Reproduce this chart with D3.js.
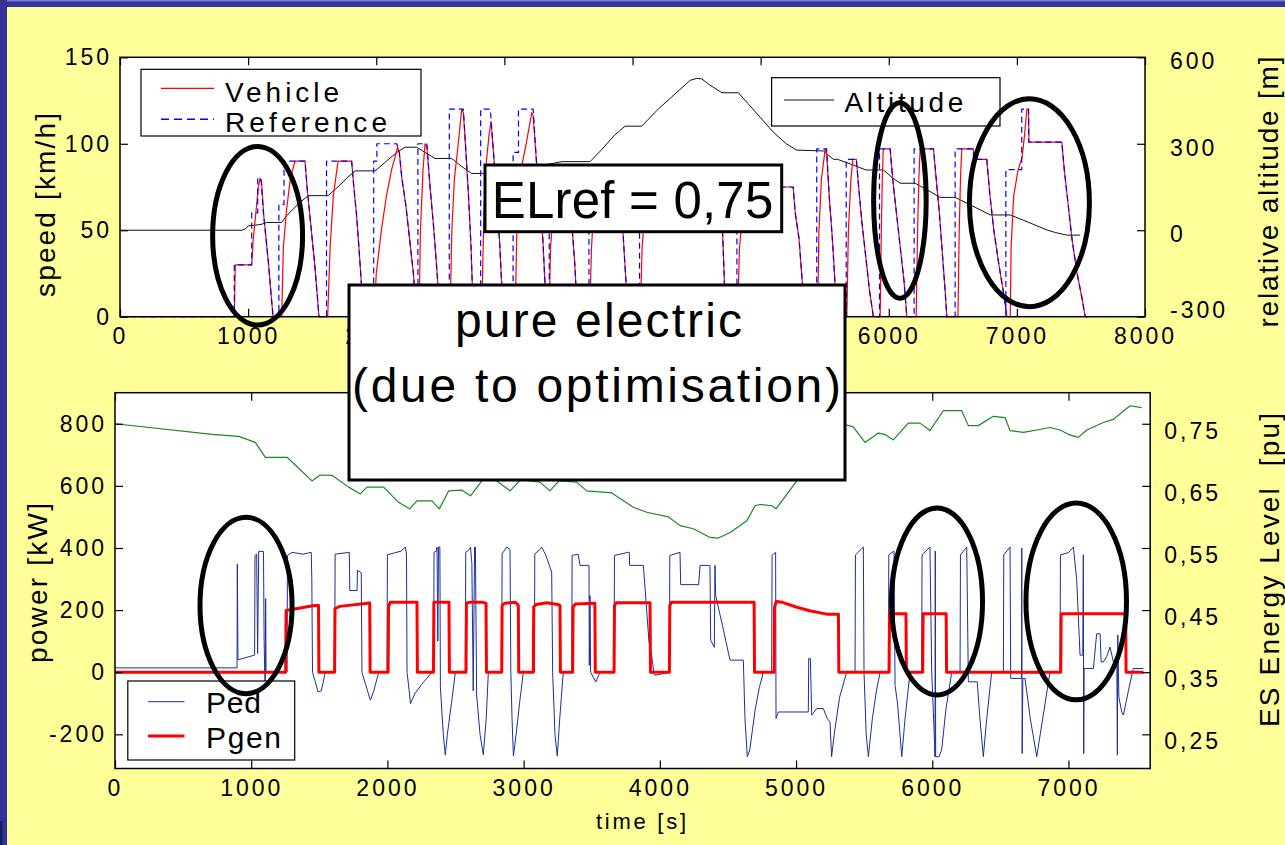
<!DOCTYPE html>
<html>
<head>
<meta charset="utf-8">
<script src="https://cdn.jsdelivr.net/npm/d3@7"></script>
<style>
  html, body { margin: 0; padding: 0; background: #ffff99; }
  svg { display: block; font-family: "Liberation Sans", Arial, sans-serif; }
</style>
</head>
<body>
<svg id="chart" width="1285" height="845"></svg>
<script>
// ---- data: [time s, value] ----
const vehicleSpeed = [
  [0,0],[892,0],[900,30],[1028,30],[1040,45],[1060,60],[1080,75],[1093,80],[1105,78],[1120,60],[1140,45],[1160,30],[1180,12],[1195,0],
  [1262,0],[1275,40],[1300,62],[1330,80],[1366,90],[1444,90],[1460,75],[1480,60],[1500,45],[1520,30],[1540,12],[1553,0],
  [1621,0],[1640,40],[1665,70],[1702,90],[1808,90],[1825,75],[1845,60],[1865,40],[1885,18],[1898,0],
  [1985,0],[2000,25],[2040,50],[2080,70],[2120,85],[2167,98],[2180,95],[2200,80],[2230,65],[2260,45],[2290,25],[2316,0],
  [2334,0],[2345,50],[2365,85],[2381,100],[2395,98],[2420,75],[2450,50],[2475,25],[2498,0],
  [2576,0],[2590,50],[2610,80],[2640,100],[2667,120],[2680,118],[2700,95],[2720,70],[2740,40],[2758,0],
  [2823,0],[2840,60],[2860,90],[2880,105],[2896,113],[2910,100],[2940,70],[2965,40],[2991,0],
  [3084,0],[3100,60],[3130,85],[3170,100],[3214,118],[3225,116],[3250,90],[3275,70],[3300,45],[3330,0],
  [3350,0],[3360,40],[3380,60],[3410,80],[3480,82],[3500,70],[3530,50],[3550,30],[3570,0],
  [3665,0],[3680,40],[3700,65],[3740,85],[3880,85],[3900,70],[3925,50],[3945,25],[3966,0],
  [4060,0],[4075,40],[4100,65],[4140,85],[4680,85],[4690,70],[4705,45],[4715,25],[4725,0],
  [4820,0],[4835,40],[4860,60],[4900,75],[5254,75],[5270,60],[5300,45],[5320,25],[5347,0],
  [5445,0],[5455,50],[5475,80],[5504,97],[5515,95],[5535,70],[5560,45],[5580,20],[5595,0],
  [5673,0],[5685,50],[5705,80],[5720,91],[5747,91],[5765,75],[5790,55],[5820,35],[5850,15],[5880,0],
  [5933,0],[5942,50],[5950,80],[5957,97],[6011,97],[6030,80],[6060,60],[6090,40],[6120,20],[6141,0],
  [6214,0],[6225,50],[6235,80],[6245,97],[6349,97],[6370,80],[6395,60],[6420,35],[6440,15],[6453,0],
  [6540,0],[6550,50],[6560,80],[6570,97],[6661,97],[6665,91],[6765,91],[6790,70],[6820,50],[6860,30],[6900,12],[6922,0],
  [6948,0],[6955,40],[6975,70],[7010,85],[7040,92],[7060,105],[7078,120],[7090,120],[7095,101],[7351,101],[7370,85],[7400,65],[7430,45],[7470,25],[7510,10],[7533,0],[7560,0]
];
const referenceSpeed = [
  [0,0],[892,0],[892,30],[1028,30],[1028,60],[1075,60],[1075,80],[1100,80],[1120,60],[1140,45],[1160,30],[1180,12],[1195,0],
  [1240,0],[1240,65],[1280,65],[1280,90],[1444,90],[1460,75],[1480,60],[1500,45],[1520,30],[1540,12],[1553,0],
  [1612,0],[1612,90],[1808,90],[1825,75],[1845,60],[1865,40],[1885,18],[1898,0],
  [1980,0],[1980,90],[2005,90],[2005,100],[2160,100],[2180,95],[2200,80],[2230,65],[2260,45],[2290,25],[2316,0],
  [2325,0],[2325,100],[2395,100],[2420,75],[2450,50],[2475,25],[2498,0],
  [2570,0],[2570,120],[2680,120],[2700,95],[2720,70],[2740,40],[2758,0],
  [2815,0],[2815,120],[2890,120],[2910,100],[2940,70],[2965,40],[2991,0],
  [3068,0],[3068,95],[3110,95],[3110,120],[3225,120],[3250,90],[3275,70],[3300,45],[3330,0],
  [3350,0],[3350,80],[3480,80],[3500,70],[3530,50],[3550,30],[3570,0],
  [3660,0],[3660,85],[3880,85],[3900,70],[3925,50],[3945,25],[3966,0],
  [4055,0],[4055,85],[4680,85],[4690,70],[4705,45],[4715,25],[4725,0],
  [4815,0],[4815,75],[5254,75],[5270,60],[5300,45],[5320,25],[5347,0],
  [5438,0],[5438,97],[5515,97],[5535,70],[5560,45],[5580,20],[5595,0],
  [5668,0],[5668,91],[5747,91],[5765,75],[5790,55],[5820,35],[5850,15],[5880,0],
  [5928,0],[5928,97],[6011,97],[6030,80],[6060,60],[6090,40],[6120,20],[6141,0],
  [6198,0],[6198,97],[6349,97],[6370,80],[6395,60],[6420,35],[6440,15],[6453,0],
  [6518,0],[6518,97],[6661,97],[6661,91],[6765,91],[6790,70],[6820,50],[6860,30],[6900,12],[6922,0],
  [6914,0],[6914,85],[7038,85],[7038,120],[7092,120],[7092,101],[7351,101],[7370,85],[7400,65],[7430,45],[7470,25],[7510,10],[7533,0],[7560,0]
];
const altitude = [
  [0,0],[950,0],[980,5],[1000,15],[1100,20],[1145,27],[1262,27],[1300,50],[1400,95],[1470,120],[1624,120],[1700,150],[1780,185],[1835,206],
  [1991,206],[2080,240],[2160,270],[2225,288],[2316,288],[2380,270],[2459,249],[2589,249],[2670,220],[2745,197],[2830,197],[3000,210],
  [3100,205],[3300,225],[3450,238],[3669,238],[3760,280],[3860,330],[3942,361],[4072,361],[4200,420],[4350,480],[4450,520],[4502,527],
  [4540,525],[4600,505],[4698,477],[4826,477],[4900,440],[5000,390],[5100,340],[5200,300],[5282,278],[5490,275],[5568,246],[5600,246],
  [5700,230],[5823,209],[5959,209],[6020,185],[6089,163],[6206,163],[6300,140],[6401,114],[6518,114],[6650,85],[6792,53],[6948,53],
  [7050,35],[7234,1],[7300,-8],[7390,-17],[7494,-17]
];
const ped = [
  [0,14],[896,14],[898,349],[903,40],[1025,55],[1028,376],[1040,380],[1047,60],[1055,389],[1090,389],[1095,100],[1099,0],[1103,-42],[1106,237],[1109,0],[1263,1],
  [1266,376],[1300,386],[1380,380],[1441,386],[1445,300],[1450,0],[1470,-30],[1490,-63],[1515,-60],[1544,0],[1613,0],
  [1616,380],[1720,386],[1724,263],[1777,263],[1780,328],[1808,320],[1813,0],[1840,-40],[1875,-90],[1900,-60],[1936,0],[1997,0],
  [2000,378],[2100,390],[2132,403],[2140,380],[2144,0],[2160,-60],[2169,-101],[2200,-70],[2250,-40],[2327,0],[2340,0],
  [2342,386],[2360,390],[2364,403],[2370,100],[2375,403],[2385,403],[2389,-50],[2410,-200],[2425,-267],[2440,-200],[2470,-100],[2499,0],[2572,0],
  [2575,386],[2600,395],[2610,403],[2620,350],[2630,-60],[2640,403],[2646,403],[2655,-74],[2680,-200],[2704,-266],[2725,-150],[2741,0],[2839,0],
  [2842,381],[2876,403],[2900,395],[2906,0],[2915,-150],[2925,-270],[2945,-200],[2970,-100],[2998,0],[3079,0],
  [3082,381],[3120,395],[3132,403],[3160,380],[3206,322],[3213,0],[3230,-200],[3247,-270],[3265,-150],[3291,0],[3353,0],
  [3356,376],[3400,380],[3414,344],[3480,344],[3482,22],[3487,247],[3492,0],[3530,-31],[3561,0],[3664,0],
  [3667,376],[3769,386],[3776,386],[3778,344],[3879,344],[3920,100],[3940,55],[3955,0],[3964,-10],[4070,0],
  [4073,376],[4148,386],[4153,282],[4285,282],[4295,344],[4368,344],[4373,103],[4400,80],[4405,344],[4410,247],[4460,150],[4515,39],[4613,39],
  [4625,-150],[4642,-272],[4660,-250],[4700,-120],[4730,-50],[4760,0],[4821,0],
  [4824,376],[4850,386],[4853,-149],[4870,-128],[5090,-128],[5093,44],[5105,44],[5115,-138],[5152,-117],[5200,-117],[5230,-150],[5249,-160],
  [5261,-272],[5280,-200],[5320,-80],[5372,0],[5433,0],
  [5436,378],[5494,403],[5499,0],[5515,-200],[5531,-272],[5560,-150],[5590,-60],[5617,0],[5678,0],
  [5681,378],[5719,390],[5727,-43],[5745,-100],[5776,-272],[5800,-150],[5837,0],[5922,0],
  [5925,378],[5983,403],[5996,0],[6010,-150],[6020,-272],[6022,390],[6025,-272],[6050,-272],[6069,-250],[6100,-120],[6143,0],[6204,0],
  [6207,378],[6253,403],[6265,-31],[6330,-31],[6350,-150],[6375,-272],[6400,-150],[6436,0],[6522,0],
  [6525,378],[6571,403],[6576,-20],[6655,-20],[6657,400],[6660,-262],[6665,-20],[6681,-20],[6720,-150],[6767,-272],[6800,-180],[6864,0],[6938,0],
  [6941,378],[7000,385],[7036,403],[7060,300],[7085,55],[7105,55],[7109,378],[7112,-262],[7115,12],[7183,12],[7207,124],[7232,124],[7240,33],
  [7256,33],[7280,50],[7305,81],[7330,33],[7355,40],[7359,-267],[7362,120],[7370,-80],[7391,-128],[7403,-138],[7440,-60],[7476,12],[7550,12]
];
const pgen = [
  [0,0],[1253,0],[1256,199],[1463,215],[1494,215],[1497,0],[1612,0],[1615,205],[1650,212],[1870,223],[1873,0],
  [2005,0],[2008,210],[2020,225],[2217,225],[2220,0],[2338,0],[2341,225],[2452,225],[2455,0],
  [2577,0],[2580,222],[2600,225],[2700,225],[2724,222],[2727,0],[2839,0],[2842,215],[2860,222],[2940,225],[2961,215],[2964,0],
  [3071,0],[3074,210],[3090,218],[3170,224],[3250,218],[3267,215],[3270,0],[3360,0],[3363,210],[3380,220],[3523,222],[3526,0],
  [3664,0],[3667,215],[3680,224],[3928,224],[3931,0],[4070,0],[4073,215],[4085,225],[4692,225],[4695,0],
  [4839,0],[4842,210],[4855,228],[4900,225],[5000,210],[5100,198],[5225,187],[5311,187],[5314,0],
  [5683,0],[5686,188],[5807,188],[5810,0],[5930,0],[5933,188],[6102,188],[6105,0],[6943,0],[6946,188],[7420,188],[7423,0],[7550,0]
];
const energyLevel = [
  [0,0.750],[712,0.733],[908,0.7296],[1030,0.720],[1104,0.696],[1263,0.696],[1446,0.658],[1507,0.6675],[1593,0.667],[1715,0.648],
  [1801,0.637],[1850,0.648],[1972,0.648],[2082,0.6235],[2163,0.613],[2217,0.626],[2327,0.626],[2381,0.613],[2450,0.642],[2548,0.643],
  [2610,0.634],[2700,0.66],[2790,0.66],[2900,0.642],[2980,0.66],[3120,0.656],[3193,0.642],[3260,0.658],[3389,0.656],[3463,0.642],
  [3647,0.6386],[3805,0.6155],[3904,0.6075],[4063,0.600],[4149,0.586],[4246,0.581],[4369,0.567],[4430,0.566],[4516,0.575],[4639,0.594],
  [4699,0.618],[4736,0.620],[4822,0.618],[4853,0.613],[5005,0.658],[5150,0.70],[5300,0.745],[5372,0.748],[5420,0.745],[5506,0.720],
  [5604,0.735],[5650,0.733],[5714,0.724],[5824,0.751],[5910,0.751],[5983,0.739],[6081,0.771],[6216,0.771],[6265,0.747],[6338,0.747],
  [6448,0.762],[6534,0.760],[6571,0.739],[6669,0.736],[6767,0.740],[6864,0.744],[6938,0.740],[6999,0.733],[7072,0.728],[7134,0.740],
  [7256,0.752],[7330,0.757],[7391,0.768],[7452,0.779],[7538,0.776]
];

// ticks
const upperTimeTicks = [0, 1000, 2000, 3000, 4000, 5000, 6000, 7000, 8000];
const upperTimeHidden = [3000, 4000, 5000]; // labels fully covered by the text box
const speedTicks = [0, 50, 100, 150];
const altitudeTicks = [-300, 0, 300, 600];
const lowerTimeTicks = [0, 1000, 2000, 3000, 4000, 5000, 6000, 7000];
const powerTicks = [-200, 0, 200, 400, 600, 800];
const energyTicks = [0.25, 0.35, 0.45, 0.55, 0.65, 0.75];

// circled regions: [time, value, half-width s, half-height value]
const upperCircles = [[1074, 46.8, 351, 51.6], [6087, 67.2, 205, 56.5], [7098, 65.9, 468, 60.1]];
const lowerCircles = [[962, 215, 338, 284], [6035, 228, 334, 301], [7057, 228, 369, 317]];

// ---- layout ----
const upperBox = { left: 120, right: 1145, top: 57.3, bottom: 316.7 };
const lowerBox = { left: 115, right: 1150.2, top: 392.7, bottom: 768.5 };

const svg = d3.select("#chart");

// slide background and frame
svg.append("rect").attr("width", 1285).attr("height", 845).attr("fill", "#ffff99");
svg.append("rect").attr("width", 1285).attr("height", 7).attr("fill", "#333399");
svg.append("rect").attr("width", 1285).attr("height", 1.5).attr("fill", "#7b7bd8");
svg.append("rect").attr("width", 7).attr("height", 845).attr("fill", "#333399");
svg.append("rect").attr("y", 821).attr("width", 2.5).attr("height", 24).attr("fill", "#0c2462");

const tUp = d3.scaleLinear().domain([0, 8000]).range([upperBox.left, upperBox.right]);
const speedY = d3.scaleLinear().domain([0, 150]).range([upperBox.bottom, upperBox.top]);
const altY = d3.scaleLinear().domain([-300, 600]).range([upperBox.bottom, upperBox.top]);

const tLow = d3.scaleLinear().domain([0, 7600]).range([lowerBox.left, lowerBox.right]);
const powerY = d3.scaleLinear().domain([-310, 900]).range([lowerBox.bottom, lowerBox.top]);
const energyY = d3.scaleLinear().domain([0.195, 0.8]).range([lowerBox.bottom, lowerBox.top]);

// plain hyphen for negatives, comma as decimal mark
const intFmt = (d) => String(d);
const commaFmt = (d) => d.toFixed(2).replace(".", ",");

function frame(box) {
  svg.append("rect")
    .attr("x", box.left).attr("y", box.top)
    .attr("width", box.right - box.left).attr("height", box.bottom - box.top)
    .attr("fill", "#fff");
}

function border(box) {
  svg.append("rect")
    .attr("x", box.left).attr("y", box.top)
    .attr("width", box.right - box.left).attr("height", box.bottom - box.top)
    .attr("fill", "none").attr("stroke", "#000").attr("stroke-width", 1.5);
}

function axis(gen, transform, dy) {
  const g = svg.append("g").attr("transform", transform).call(gen);
  g.attr("font-family", null).attr("font-size", 23);
  g.select(".domain").remove();
  g.selectAll(".tick line").attr("stroke", "#000").attr("stroke-width", 1.2);
  g.selectAll(".tick text").attr("fill", "#000").style("letter-spacing", "3px");
  if (dy) g.selectAll(".tick text").attr("dy", dy);
  return g;
}

function path(data, x, y, color, width, dash) {
  svg.append("path")
    .datum(data)
    .attr("fill", "none")
    .attr("stroke", color)
    .attr("stroke-width", width)
    .attr("stroke-linejoin", "round")
    .attr("stroke-dasharray", dash || null)
    .attr("d", d3.line().x((d) => x(d[0])).y((d) => y(d[1])));
}

function text(x, y, str, size, length, rotate) {
  const t = svg.append("text")
    .attr("font-size", size)
    .attr("fill", "#000")
    .style("white-space", "pre")
    .text(str);
  if (rotate) {
    t.attr("transform", `translate(${x},${y}) rotate(-90)`)
      .attr("text-anchor", "middle")
      .attr("dy", "0.35em");
  } else {
    t.attr("x", x).attr("y", y);
  }
  if (length) t.attr("textLength", length).attr("lengthAdjust", "spacing");
  return t;
}

function circles(list, x, y) {
  svg.selectAll(null)
    .data(list)
    .enter()
    .append("ellipse")
    .attr("cx", (d) => x(d[0]))
    .attr("cy", (d) => y(d[1]))
    .attr("rx", (d) => x(d[2]) - x(0))
    .attr("ry", (d) => y(0) - y(d[3]))
    .attr("fill", "none")
    .attr("stroke", "#000")
    .attr("stroke-width", 5);
}

// ---- upper panel: speed and altitude ----
frame(upperBox);
path(altitude, tUp, altY, "#111", 1);
path(vehicleSpeed, tUp, speedY, "#ff0000", 1.2);
path(referenceSpeed, tUp, speedY, "#0000ff", 1.2, "6,4");
border(upperBox);

const upperTimeAxis = axis(
  d3.axisBottom(tUp).tickValues(upperTimeTicks).tickSize(-8).tickPadding(11).tickFormat(intFmt),
  `translate(0,${upperBox.bottom})`);
upperTimeAxis.selectAll(".tick text").filter((d) => upperTimeHidden.includes(d)).remove();
axis(d3.axisTop(tUp).tickValues(upperTimeTicks).tickSize(-8).tickFormat(""),
  `translate(0,${upperBox.top})`);
axis(d3.axisLeft(speedY).tickValues(speedTicks).tickSize(-8).tickPadding(8).tickFormat(intFmt),
  `translate(${upperBox.left},0)`);
const altAxis = axis(d3.axisRight(altY).tickValues(altitudeTicks).tickSize(-8).tickPadding(25).tickFormat(intFmt),
  `translate(${upperBox.right},0)`, "0.5em");
altAxis.selectAll(".tick text").filter((d) => d === -300).attr("dy", "0.05em");

text(45, 205, "speed [km/h]", 28, 184, true);
text(1268, 192, "relative altitude [m]", 28, 271, true);

// legends
svg.append("rect").attr("x", 141).attr("y", 69.3).attr("width", 280).attr("height", 66.7)
  .attr("fill", "#fff").attr("stroke", "#000").attr("stroke-width", 1.2);
svg.append("line").attr("x1", 161).attr("x2", 214).attr("y1", 88.3).attr("y2", 88.3)
  .attr("stroke", "#ff0000").attr("stroke-width", 1.2);
svg.append("line").attr("x1", 161).attr("x2", 214).attr("y1", 119.3).attr("y2", 119.3)
  .attr("stroke", "#0000ff").attr("stroke-width", 1.5).attr("stroke-dasharray", "8,5");
text(225, 101.7, "Vehicle", 28, 114);
text(225, 131.7, "Reference", 28, 162);

svg.append("rect").attr("x", 771.6).attr("y", 77.7).attr("width", 228.4).attr("height", 48.3)
  .attr("fill", "#fff").attr("stroke", "#000").attr("stroke-width", 1.2);
svg.append("line").attr("x1", 784).attr("x2", 834).attr("y1", 100).attr("y2", 100)
  .attr("stroke", "#111").attr("stroke-width", 1);
text(844.4, 111.7, "Altitude", 28, 119);

// ---- lower panel: power and energy level ----
frame(lowerBox);
path(energyLevel, tLow, energyY, "#1a8a1a", 1.2);
path(ped, tLow, powerY, "#1c2f9c", 1);
path(pgen, tLow, powerY, "#ff0000", 3);
border(lowerBox);

axis(d3.axisBottom(tLow).tickValues(lowerTimeTicks).tickSize(-8).tickPadding(11).tickFormat(intFmt),
  `translate(0,${lowerBox.bottom})`);
axis(d3.axisTop(tLow).tickValues(lowerTimeTicks).tickSize(-8).tickFormat(""),
  `translate(0,${lowerBox.top})`);
axis(d3.axisLeft(powerY).tickValues(powerTicks).tickSize(-8).tickPadding(8).tickFormat(intFmt),
  `translate(${lowerBox.left},0)`);
axis(d3.axisRight(energyY).tickValues(energyTicks).tickSize(-8).tickPadding(14).tickFormat(commaFmt),
  `translate(${lowerBox.right},0)`, "0.62em");

text(37, 583, "power [kW]", 28, 160, true);
text(1269, 570, "ES Energy Level  [pu]", 28, 314, true);
text(596, 829, "time [s]", 22, 90);

svg.append("rect").attr("x", 127.8).attr("y", 681).attr("width", 166.9).attr("height", 79)
  .attr("fill", "#fff").attr("stroke", "#000").attr("stroke-width", 1.2);
svg.append("line").attr("x1", 148).attr("x2", 184.5).attr("y1", 701.7).attr("y2", 701.7)
  .attr("stroke", "#1c2f9c").attr("stroke-width", 1);
svg.append("line").attr("x1", 148).attr("x2", 184.5).attr("y1", 736).attr("y2", 736)
  .attr("stroke", "#ff0000").attr("stroke-width", 3);
text(206, 713, "Ped", 30, 55);
text(206, 748, "Pgen", 30, 75);

// ---- annotations ----
circles(upperCircles, tUp, speedY);
circles(lowerCircles, tLow, powerY);

svg.append("rect").attr("x", 485).attr("y", 165).attr("width", 296.7).attr("height", 66.7)
  .attr("fill", "#fff").attr("stroke", "#000").attr("stroke-width", 3);
text(491.7, 218.3, "ELref = 0,75", 51, 281.6);

svg.append("rect").attr("x", 349).attr("y", 285).attr("width", 496).attr("height", 195)
  .attr("fill", "#fff").attr("stroke", "#000").attr("stroke-width", 3);
text(455, 337, "pure electric", 48, 287);
text(352, 401.7, "(due to optimisation)", 48, 489);
</script>
</body>
</html>
